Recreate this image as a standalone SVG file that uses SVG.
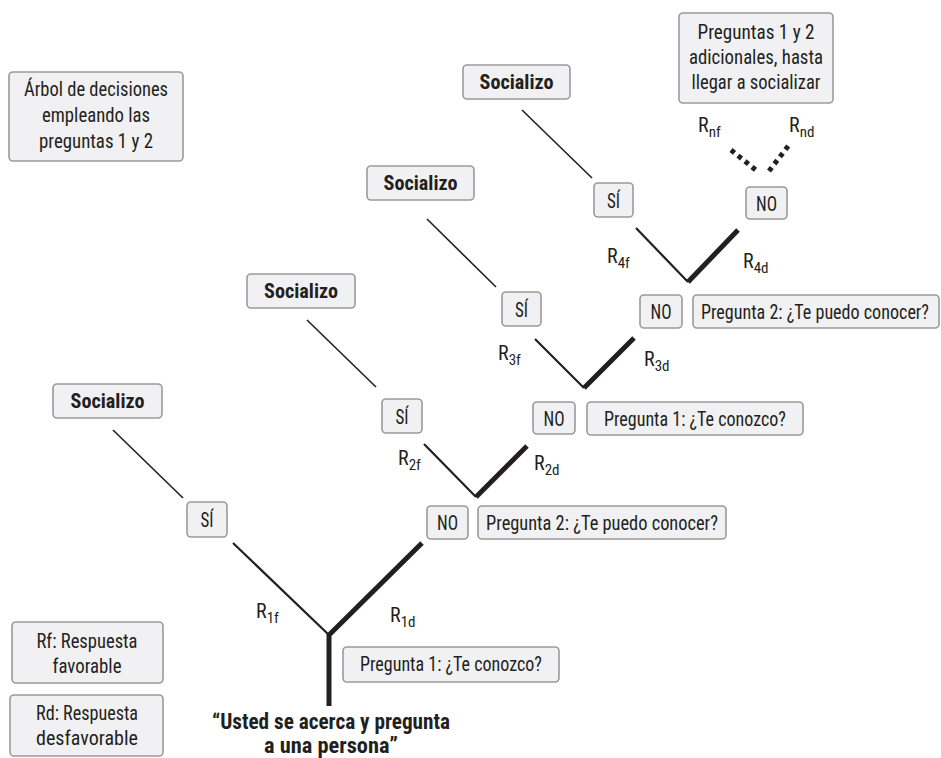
<svg xmlns="http://www.w3.org/2000/svg" width="941" height="758" viewBox="0 0 941 758">
<style>
text{font-family:"Liberation Sans Narrow","Roboto Condensed","DejaVu Sans Condensed","Liberation Sans",sans-serif;font-stretch:condensed;font-size:21px;fill:#231f20;text-anchor:middle}
.b{font-weight:bold}
.q{font-size:22px}
.box{fill:#f1f1f3;stroke:#9a9a9c;stroke-width:1.6}
.thin{stroke:#231f20;stroke-width:1.6;fill:none}
.mid{stroke:#231f20;stroke-width:2.2;fill:none}
.thick{stroke:#231f20;stroke-width:5;fill:none}
.dot{stroke:#231f20;stroke-width:5;fill:none;stroke-dasharray:4.5 4.5}
.lab{text-anchor:start;font-size:20px}
.sub{font-size:15px}
</style>
<rect width="941" height="758" fill="#fff"/>
<g id="legend-tree">
<rect class="box" x="9" y="72" width="174" height="89" rx="4"/>
<text x="96" y="96" textLength="144" lengthAdjust="spacingAndGlyphs">Árbol de decisiones</text>
<text x="96" y="122" textLength="108" lengthAdjust="spacingAndGlyphs">empleando las</text>
<text x="96" y="148" textLength="114" lengthAdjust="spacingAndGlyphs">preguntas 1 y 2</text>
</g>
<g id="legend-rf">
<rect class="box" x="12" y="622" width="151" height="61" rx="4"/>
<text x="87" y="648" textLength="101" lengthAdjust="spacingAndGlyphs">Rf: Respuesta</text>
<text x="87" y="673" textLength="69" lengthAdjust="spacingAndGlyphs">favorable</text>
</g>
<g id="legend-rd">
<rect class="box" x="10" y="695" width="153" height="61" rx="4"/>
<text x="87" y="720" textLength="102" lengthAdjust="spacingAndGlyphs">Rd: Respuesta</text>
<text x="87" y="745" textLength="102" lengthAdjust="spacingAndGlyphs">desfavorable</text>
</g>
<g id="additional">
<rect class="box" x="679" y="13" width="154" height="90" rx="4"/>
<text x="756" y="39" textLength="117" lengthAdjust="spacingAndGlyphs">Preguntas 1 y 2</text>
<text x="756" y="64" textLength="134" lengthAdjust="spacingAndGlyphs">adicionales, hasta</text>
<text x="756" y="89" textLength="129" lengthAdjust="spacingAndGlyphs">llegar a socializar</text>
</g>
<g id="connectors">
<line class="thin" x1="113" y1="430" x2="183" y2="498"/>
<line class="thin" x1="307" y1="320" x2="376" y2="387"/>
<line class="thin" x1="427" y1="219" x2="496" y2="287"/>
<line class="thin" x1="522" y1="110" x2="592" y2="178"/>
<polyline class="mid" points="233,543 329,635"/>
<polyline class="thick" points="329,706 329,635 422,543"/>
<polyline class="mid" points="424,444 476,497"/>
<polyline class="thick" points="476,497 527,446"/>
<polyline class="mid" points="535,339 584,388"/>
<polyline class="thick" points="584,388 634,338"/>
<polyline class="mid" points="636,228 688,282"/>
<polyline class="thick" points="688,282 738,230"/>
<line class="dot" x1="731" y1="150" x2="757" y2="171"/>
<line class="dot" x1="769" y1="171" x2="789" y2="145"/>
</g>
<g id="soc1"><rect class="box" x="53" y="384" width="109" height="34" rx="4"/><text class="b" x="107.5" y="408" textLength="74" lengthAdjust="spacingAndGlyphs">Socializo</text></g>
<g id="soc2"><rect class="box" x="247" y="274" width="108" height="34" rx="4"/><text class="b" x="301" y="298" textLength="74" lengthAdjust="spacingAndGlyphs">Socializo</text></g>
<g id="soc3"><rect class="box" x="367" y="166" width="107" height="34" rx="4"/><text class="b" x="420.5" y="190" textLength="74" lengthAdjust="spacingAndGlyphs">Socializo</text></g>
<g id="soc4"><rect class="box" x="463" y="65" width="107" height="34" rx="4"/><text class="b" x="516.5" y="89" textLength="74" lengthAdjust="spacingAndGlyphs">Socializo</text></g>
<g id="si1"><rect class="box" x="187" y="502" width="40" height="35" rx="4"/><text x="207" y="527" textLength="13" lengthAdjust="spacingAndGlyphs">SÍ</text></g>
<g id="si2"><rect class="box" x="382" y="399" width="40" height="34" rx="4"/><text x="402" y="424" textLength="13" lengthAdjust="spacingAndGlyphs">SÍ</text></g>
<g id="si3"><rect class="box" x="502" y="292" width="39" height="34" rx="4"/><text x="521.5" y="317" textLength="13" lengthAdjust="spacingAndGlyphs">SÍ</text></g>
<g id="si4"><rect class="box" x="594" y="183" width="39" height="34" rx="4"/><text x="613.5" y="208" textLength="13" lengthAdjust="spacingAndGlyphs">SÍ</text></g>
<g id="no1"><rect class="box" x="427" y="506" width="41" height="33" rx="4"/><text x="447.5" y="530" textLength="21" lengthAdjust="spacingAndGlyphs">NO</text></g>
<g id="no2"><rect class="box" x="533" y="402" width="42" height="32" rx="4"/><text x="554" y="426" textLength="21" lengthAdjust="spacingAndGlyphs">NO</text></g>
<g id="no3"><rect class="box" x="640" y="295" width="42" height="33" rx="4"/><text x="661" y="319" textLength="21" lengthAdjust="spacingAndGlyphs">NO</text></g>
<g id="no4"><rect class="box" x="746" y="187" width="41" height="32" rx="4"/><text x="766.5" y="211" textLength="21" lengthAdjust="spacingAndGlyphs">NO</text></g>
<g id="q1a"><rect class="box" x="343" y="647" width="216" height="35" rx="4"/><text x="451" y="671" textLength="182" lengthAdjust="spacingAndGlyphs">Pregunta 1: ¿Te conozco?</text></g>
<g id="q2a"><rect class="box" x="478" y="506" width="248" height="33" rx="4"/><text x="602" y="530" textLength="232" lengthAdjust="spacingAndGlyphs">Pregunta 2: ¿Te puedo conocer?</text></g>
<g id="q1b"><rect class="box" x="587" y="402" width="216" height="33" rx="4"/><text x="695" y="426" textLength="182" lengthAdjust="spacingAndGlyphs">Pregunta 1: ¿Te conozco?</text></g>
<g id="q2b"><rect class="box" x="693" y="295" width="246" height="33" rx="4"/><text x="815" y="319" textLength="228" lengthAdjust="spacingAndGlyphs">Pregunta 2: ¿Te puedo conocer?</text></g>
<g id="labels">
<text class="lab" x="256" y="618">R<tspan class="sub" dy="5">1f</tspan></text>
<text class="lab" x="390" y="622">R<tspan class="sub" dy="5">1d</tspan></text>
<text class="lab" x="398" y="465">R<tspan class="sub" dy="5">2f</tspan></text>
<text class="lab" x="534" y="470">R<tspan class="sub" dy="5">2d</tspan></text>
<text class="lab" x="498" y="360">R<tspan class="sub" dy="5">3f</tspan></text>
<text class="lab" x="644" y="366">R<tspan class="sub" dy="5">3d</tspan></text>
<text class="lab" x="607" y="263">R<tspan class="sub" dy="5">4f</tspan></text>
<text class="lab" x="743" y="268">R<tspan class="sub" dy="5">4d</tspan></text>
<text class="lab" x="698" y="132">R<tspan class="sub" dy="5">nf</tspan></text>
<text class="lab" x="789" y="132">R<tspan class="sub" dy="5">nd</tspan></text>
</g>
<g id="start">
<text class="b q" x="331" y="729" textLength="238" lengthAdjust="spacingAndGlyphs">“Usted se acerca y pregunta</text>
<text class="b q" x="331" y="753" textLength="134" lengthAdjust="spacingAndGlyphs">a una persona”</text>
</g>
</svg>
